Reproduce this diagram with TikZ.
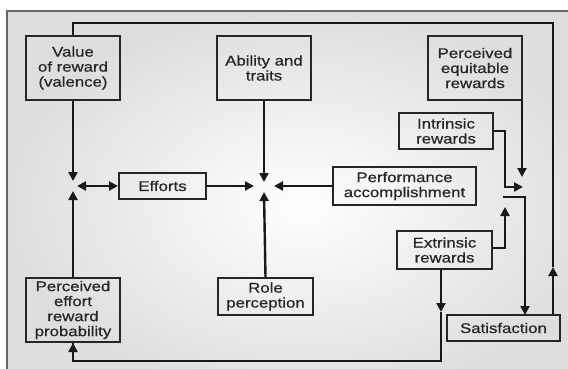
\documentclass[tikz,border=0pt]{standalone}
\usepackage{fontspec}
\setmainfont[FakeStretch=1.2,FakeBold=0.6]{Liberation Sans}
\usetikzlibrary{arrows.meta}
\begin{document}
\begin{tikzpicture}[x=1pt,y=-1pt,
  box/.style={draw=black!85,line width=2pt,align=center,inner sep=0pt,
    font=\fontsize{14}{15}\selectfont,text=black!85},
  conn/.style={line width=2.4pt,draw=black!90},
  arr/.style={conn,-{Triangle[length=9pt,width=9pt]}},
  darr/.style={conn,{Triangle[length=9pt,width=9pt]}-{Triangle[length=9pt,width=9pt]}}]
\useasboundingbox (0,0) rectangle (568,369);
\shade[inner color=white,outer color=gray!26] (7,11) rectangle (600,400);
\draw[line width=2.4pt,draw=black!60] (7,369) -- (7,11) -- (568,11);
% boxes
\node[box,minimum width=94pt,minimum height=64pt] (val) at (73,68) {Value\\of reward\\(valence)};
\node[box,minimum width=94pt,minimum height=64pt] (abil) at (264,68) {Ability and\\traits};
\node[box,minimum width=94pt,minimum height=64pt] (equi) at (475,68) {Perceived\\equitable\\rewards};
\node[box,minimum width=94pt,minimum height=36pt] (intr) at (446,131) {Intrinsic\\rewards};
\node[box,minimum width=143pt,minimum height=38pt] (perf) at (404.5,186) {Performance\\accomplishment};
\node[box,minimum width=87pt,minimum height=26pt] (eff) at (162.5,186) {Efforts};
\node[box,minimum width=94pt,minimum height=64pt] (prob) at (73,310) {Perceived\\effort\\reward\\probability};
\node[box,minimum width=95pt,minimum height=37pt] (role) at (265.5,296.5) {Role\\perception};
\node[box,minimum width=95pt,minimum height=38pt] (extr) at (444.5,250) {Extrinsic\\rewards};
\node[box,minimum width=113pt,minimum height=26pt] (sat) at (503.5,328) {Satisfaction};
% junction coordinates
\coordinate (j1t) at (73,181);
\coordinate (j1b) at (73,191);
\coordinate (j1r) at (77,186);
\coordinate (j2t) at (264,182);
\coordinate (j2l) at (254,186);
\coordinate (j2r) at (274,186);
\coordinate (j2b) at (264,192);
\coordinate (eqb) at (522,100);
\coordinate (eqt) at (522,177);
\coordinate (ia) at (505,131);
\coordinate (ib) at (505,187);
\coordinate (ic) at (523,187);
\coordinate (ea) at (505,248);
\coordinate (eb) at (505,207);
\coordinate (oa) at (503,197);
\coordinate (ob) at (525,197);
\coordinate (oc) at (525,315);
\coordinate (xa) at (441,312);
\coordinate (xb) at (441,361);
\coordinate (xc) at (73,361);
\coordinate (sa) at (553,315);
\coordinate (sb) at (553,267);
\coordinate (sc) at (553,23);
\coordinate (sd) at (73,23);
% connectors
\draw[arr] (val.south) -- (j1t);
\draw[arr] (prob.north) -- (j1b);
\draw[darr] (j1r) -- (eff.west);
\draw[arr] (abil.south) -- (j2t);
\draw[arr] (eff.east) -- (j2l);
\draw[arr] (perf.west) -- (j2r);
\draw[arr] (role.north) -- (j2b);
\draw[arr] (eqb) -- (eqt);
\draw[arr] (intr.east |- ia) -- (ia) -- (ib) -- (ic);
\draw[arr] (extr.east |- ea) -- (ea) -- (eb);
\draw[arr] (oa) -- (ob) -- (oc);
\draw[arr] (extr.south -| xa) -- (xa);
\draw[conn] (xa) -- (xb) -- (xc) -- (xc |- prob.south);
\draw[arr] (xc) -- (prob.south);
\draw[arr] (sa) -- (sb);
\draw[conn] (sb) -- (sc) -- (sd) -- (val.north);
\end{tikzpicture}
\end{document}
